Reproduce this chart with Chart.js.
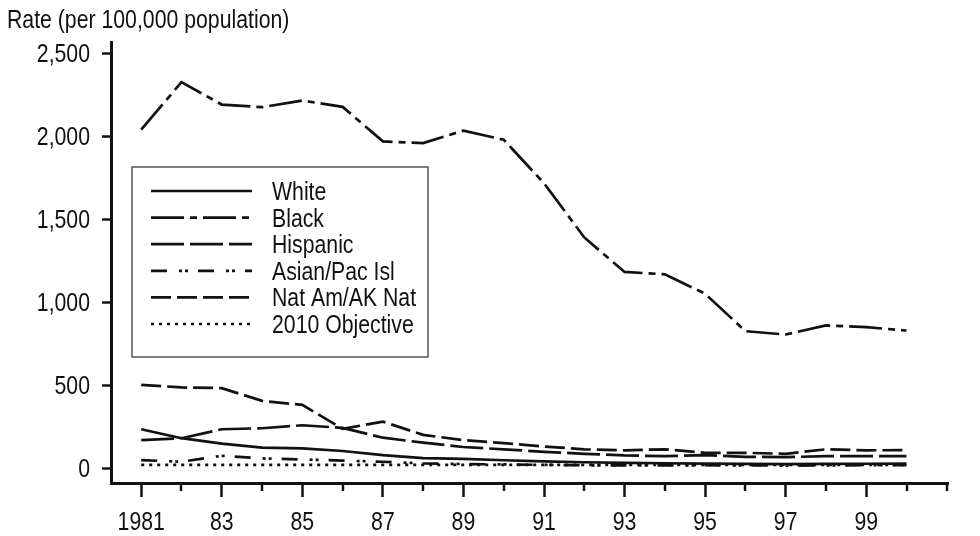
<!DOCTYPE html>
<html>
<head>
<meta charset="utf-8">
<title>Rate per 100,000 population, 1981-2000</title>
<script src="https://cdn.jsdelivr.net/npm/chart.js"></script>
<style>
  html, body { margin: 0; padding: 0; background: #fff; }
  #wrap { width: 980px; height: 536px; }
</style>
</head>
<body>
<div id="wrap"><canvas id="myChart" width="980" height="536"></canvas></div>
<script>
// values
const years = [1981, 1982, 1983, 1984, 1985, 1986, 1987, 1988, 1989, 1990,
               1991, 1992, 1993, 1994, 1995, 1996, 1997, 1998, 1999, 2000];
const white = [234, 180, 147, 123, 119, 103, 78, 60, 56, 47, 40, 35, 31, 29, 27, 25, 24, 25, 26, 27];
const black = [2040, 2326, 2191, 2175, 2215, 2177, 1969, 1959, 2034, 1979,
               1717, 1390, 1182, 1168, 1051, 825, 805, 860, 849, 829];
const hispanic = [169, 180, 234, 240, 258, 242, 183, 153, 127, 113, 98, 86, 76, 72, 78, 68, 66, 72, 72, 72];
const asianPac = [48, 38, 74, 58, 52, 45, 38, 28, 24, 22, 19, 17, 16, 16, 17, 16, 15, 16, 17, 18];
const natAm = [502, 486, 482, 405, 381, 236, 280, 200, 168, 150, 130, 113, 107, 113, 92, 92, 86, 113, 107, 108];
const objective = [19, 19, 19, 19, 19, 19, 19, 19, 19, 19, 19, 19, 19, 19, 19, 19, 19, 19, 19, 19];

const seriesNames = ['White', 'Black', 'Hispanic', 'Asian/Pac Isl', 'Nat Am/AK Nat', '2010 Objective'];

const yTicks = [0, 500, 1000, 1500, 2000, 2500];
const yTickLabels = ['0', '500', '1,000', '1,500', '2,000', '2,500'];
const tickYears = [1981, 1982, 1983, 1984, 1985, 1986, 1987, 1988, 1989, 1990, 1991,
                   1992, 1993, 1994, 1995, 1996, 1997, 1998, 1999, 2000, 2001];
const labeledYears = [1981, 1983, 1985, 1987, 1989, 1991, 1993, 1995, 1997, 1999];
const xTickLabels = ['1981', '83', '85', '87', '89', '91', '93', '95', '97', '99'];

const FONT = '"Liberation Sans", Arial, sans-serif';
const INK = '#111';
const SQUEEZE = 0.85;   // the original type is a narrow face

const toPoints = arr => arr.map((v, i) => ({ x: years[i], y: v }));

function makeSet(label, values, dash) {
    return {
        label: label,
        data: toPoints(values),
        borderColor: INK,
        borderWidth: 2.7,
        borderDash: dash,
        borderCapStyle: 'butt',
        pointRadius: 0,
        tension: 0,
        fill: false
    };
}

// narrow text: squeeze horizontally around the anchor
function narrowText(ctx, text, x, y, align) {
    ctx.save();
    ctx.translate(x, y);
    ctx.scale(SQUEEZE, 1);
    ctx.textAlign = align;
    ctx.textBaseline = 'alphabetic';
    ctx.fillText(text, 0, 0);
    ctx.restore();
}

// title, tick labels, short ticks and legend box
const extras = {
    id: 'extras',
    afterDraw(chart) {
        const ctx = chart.ctx;
        const xs = chart.scales.x;
        const ys = chart.scales.y;
        ctx.save();
        ctx.fillStyle = INK;
        ctx.font = '25px ' + FONT;

        narrowText(ctx, 'Rate (per 100,000 population)', 7, 28, 'left');

        yTicks.forEach((v, i) => {
            narrowText(ctx, yTickLabels[i], 90, ys.getPixelForValue(v) + 9, 'right');
        });
        labeledYears.forEach((v, i) => {
            narrowText(ctx, xTickLabels[i], xs.getPixelForValue(v), 530, 'center');
        });

        // short ticks for the unlabelled years
        ctx.strokeStyle = INK;
        ctx.lineWidth = 2.5;
        tickYears.forEach(v => {
            if (labeledYears.includes(v)) return;
            const px = Math.round(xs.getPixelForValue(v));
            ctx.beginPath();
            ctx.moveTo(px, xs.top);
            ctx.lineTo(px, xs.top + 8);
            ctx.stroke();
        });

        // legend
        const bx = 132, by = 167, bw = 296, bh = 190;
        ctx.fillStyle = '#fff';
        ctx.fillRect(bx, by, bw, bh);
        ctx.strokeStyle = '#555';
        ctx.lineWidth = 1.5;
        ctx.strokeRect(bx, by, bw, bh);
        chart.data.datasets.forEach((ds, i) => {
            const ry = 191 + i * 26.6;
            ctx.strokeStyle = INK;
            ctx.lineWidth = 2.7;
            ctx.setLineDash(ds.borderDash);
            ctx.beginPath();
            ctx.moveTo(151, ry);
            ctx.lineTo(252, ry);
            ctx.stroke();
            ctx.setLineDash([]);
            ctx.fillStyle = INK;
            narrowText(ctx, ds.label, 272, ry + 9, 'left');
        });
        ctx.restore();
    }
};

const ctx = document.getElementById('myChart').getContext('2d');
const chart = new Chart(ctx, {
    type: 'line',
    data: {
        datasets: [
            makeSet(seriesNames[0], white, []),
            makeSet(seriesNames[1], black, [33, 6, 7, 6]),
            makeSet(seriesNames[2], hispanic, [33, 6]),
            makeSet(seriesNames[3], asianPac, [16, 12, 3, 3, 3, 10]),
            makeSet(seriesNames[4], natAm, [20, 6]),
            makeSet(seriesNames[5], objective, [3, 5])
        ]
    },
    options: {
        responsive: false,
        animation: false,
        layout: { padding: { top: 42, right: 32, left: 0, bottom: 0 } },
        plugins: {
            legend: { display: false },
            tooltip: { enabled: false }
        },
        scales: {
            x: {
                type: 'linear',
                min: 1980.25,
                max: 2001.03,
                afterBuildTicks: s => { s.ticks = tickYears.map(v => ({ value: v })); },
                afterFit: s => { s.height = 53; },
                ticks: { display: false, autoSkip: false, maxRotation: 0 },
                grid: {
                    drawOnChartArea: false,
                    tickLength: 14,
                    tickWidth: 2.5,
                    tickColor: c => (c.tick && labeledYears.includes(c.tick.value)) ? INK : 'rgba(0,0,0,0)'
                },
                border: { color: INK, width: 3 }
            },
            y: {
                min: -90,
                max: 2568,
                afterBuildTicks: s => { s.ticks = yTicks.map(v => ({ value: v })); },
                afterFit: s => { s.width = 111; },
                ticks: { display: false },
                grid: {
                    drawOnChartArea: false,
                    tickLength: 9,
                    tickWidth: 2.5,
                    tickColor: INK
                },
                border: { color: INK, width: 3 }
            }
        }
    },
    plugins: [extras]
});
</script>
</body>
</html>
